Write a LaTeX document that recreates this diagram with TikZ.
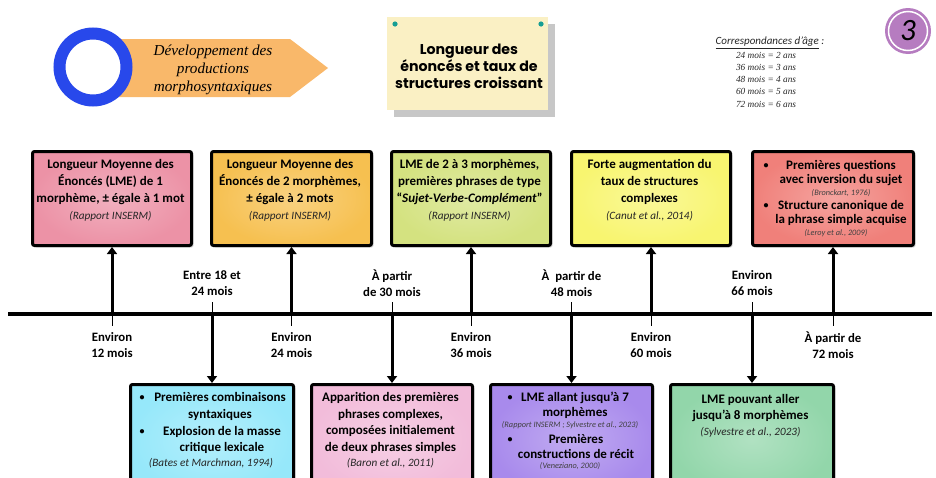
\documentclass[tikz,border=0pt]{standalone}
\usepackage{fontspec}
\setmainfont{Carlito}
\newfontfamily\serifit{Liberation Serif}
\newfontfamily\popf{Poppins}
\usetikzlibrary{arrows.meta,shadows}
\definecolor{cPink}{RGB}{236,146,166}
\definecolor{cOrange}{RGB}{246,192,80}
\definecolor{cLime}{RGB}{212,226,128}
\definecolor{cYellow}{RGB}{248,245,112}
\definecolor{cSalmon}{RGB}{240,128,122}
\definecolor{cCyan}{RGB}{150,232,250}
\definecolor{cRose}{RGB}{242,188,218}
\definecolor{cPurple}{RGB}{168,138,236}
\definecolor{cGreen}{RGB}{146,214,170}
\definecolor{cArrow}{RGB}{249,184,106}
\definecolor{cBlue}{RGB}{40,72,235}
\definecolor{cNote}{RGB}{250,240,196}
\definecolor{cTeal}{RGB}{22,158,148}
\definecolor{cMauve}{RGB}{182,124,192}
\begin{document}
\begin{tikzpicture}[x=1pt,y=-1pt,
 tbox/.style={draw=black, line width=3pt, rounded corners=2pt, anchor=north west, inner sep=0pt,
   inner color=#1!72!white, outer color=#1,
   drop shadow={shadow xshift=2pt, shadow yshift=-2pt, opacity=0.3}},
 bt/.style={font=\bfseries\fontsize{13}{16.8}\selectfont, align=center, inner sep=0pt},
 btt/.style={font=\bfseries\fontsize{13}{14.8}\selectfont, align=center, inner sep=0pt},
 ct/.style={font=\itshape\fontsize{11.2}{12}\selectfont, inner sep=0pt, text=black!85},
 cs/.style={font=\itshape\fontsize{8.3}{9}\selectfont, inner sep=0pt, text=black!75},
 bul/.style={font=\bfseries\fontsize{10}{12}\selectfont, inner sep=0pt},
 arr/.style={line width=3pt, -{Triangle[width=10pt,length=7pt]}},
 tickl/.style={line width=0.8pt},
 tl/.style={font=\bfseries\fontsize{12.8}{16}\selectfont, align=center, inner sep=0pt}
]
\useasboundingbox (0,0) rectangle (936,477);
\clip (0,0) rectangle (936,477);

% ---------- header ----------
\fill[cArrow] (115,39) -- (290,39) -- (328,68) -- (290,97) -- (115,97) -- cycle;
\draw[cBlue, line width=12pt, fill=white] (93,67) circle (33.5pt);
\node[font=\serifit\itshape\fontsize{15.2}{17.8}\selectfont, align=center, inner sep=0pt] (htxt) at (213,70)
  {Développement des\\productions\\morphosyntaxiques};

\fill[black!40, opacity=.55] (394,24) rectangle (555,117);
\node[fill=cNote, anchor=north west, minimum width=161pt, minimum height=93pt, inner sep=0pt] (note) at (387,17) {};
\fill[cTeal] (395,24) circle (2.6pt);
\fill[cTeal] (541,24) circle (2.6pt);
\node[font=\popf\bfseries\fontsize{14.2}{17}\selectfont, align=center, inner sep=0pt] (ntxt) at (469,66)
  {Longueur des\\énoncés et taux de\\structures croissant};

\node[font=\itshape\fontsize{11}{12}\selectfont, inner sep=0pt, text=black!85] (corr) at (770,43)
  {\underline{Correspondances d'âge} :};
\node[font=\serifit\itshape\fontsize{9.3}{12.2}\selectfont, align=center, inner sep=0pt, anchor=north, text=black!85] (ages) at (766,52)
  {24 mois = 2 ans\\36 mois = 3 ans\\48 mois = 4 ans\\60 mois = 5 ans\\72 mois = 6 ans};

\node[circle, fill=cMauve, minimum size=46pt, inner sep=0pt] (num) at (908,31) {};
\draw[white, line width=1.5pt] (num.center) circle (19.5pt);
\node[font=\itshape\fontsize{31}{32}\selectfont, inner sep=0pt] (numt) at (908,31) {3};

% ---------- top boxes ----------
\node[tbox=cPink,   minimum width=159pt, minimum height=94pt] (b1) at (31,150) {};
\node[tbox=cOrange, minimum width=160pt, minimum height=94pt] (b2) at (210,150) {};
\node[tbox=cLime,   minimum width=159pt, minimum height=94pt] (b3) at (390,150) {};
\node[tbox=cYellow, minimum width=159pt, minimum height=94pt] (b4) at (570,150) {};
\node[tbox=cSalmon, minimum width=161pt, minimum height=94pt] (b5) at (751,150) {};

\node[bt] (b1t) at (110.5,182) {Longueur Moyenne des\\Énoncés (LME) de 1\\morphème, ± égale à 1 mot};
\node[ct] (b1c) at (110.5,216) {(Rapport INSERM)};
\node[bt] (b2t) at (290,182) {Longueur Moyenne des\\Énoncés de 2 morphèmes,\\± égale à 2 mots};
\node[ct] (b2c) at (290,216) {(Rapport INSERM)};
\node[bt] (b3t) at (469.5,182) {LME de 2 à 3 morphèmes,\\premières phrases de type\\“\textit{Sujet-Verbe-Complément}”};
\node[ct] (b3c) at (469.5,216) {(Rapport INSERM)};
\node[bt] (b4t) at (649.5,182) {Forte augmentation du\\taux de structures\\complexes};
\node[ct] (b4c) at (649.5,216) {(Canut et al., 2014)};

\node[bul] (b5b1) at (766,166) {•};
\node[btt] (b5t1) at (841,173) {Premières questions\\avec inversion du sujet};
\node[cs] (b5c1) at (841,193) {(Bronckart, 1976)};
\node[bul] (b5b2) at (766,206) {•};
\node[btt] (b5t2) at (841,213) {Structure canonique de\\la phrase simple acquise};
\node[cs] (b5c2) at (836,233) {(Leroy et al., 2009)};

% ---------- bottom boxes ----------
\node[tbox=cCyan,   minimum width=163pt, minimum height=110pt] (bA) at (129,383) {};
\node[tbox=cRose,   minimum width=161pt, minimum height=110pt] (bB) at (310,383) {};
\node[tbox=cPurple, minimum width=162pt, minimum height=110pt] (bC) at (489,383) {};
\node[tbox=cGreen,  minimum width=163pt, minimum height=110pt] (bD) at (669,383) {};

\node[bul] (bAb1) at (142,398) {•};
\node[bt] (bAt1) at (220,406.5) {Premières combinaisons\\syntaxiques};
\node[bul] (bAb2) at (142,432) {•};
\node[bt] (bAt2) at (222,440) {Explosion de la masse\\critique lexicale};
\node[ct] (bAc) at (211,463) {(Bates et Marchman, 1994)};

\node[bt] (bBt) at (390.5,423) {Apparition des premières\\phrases complexes,\\composées initialement\\de deux phrases simples};
\node[ct] (bBc) at (390.5,463) {(Baron et al., 2011)};

\node[bul] (bCb1) at (510,398) {•};
\node[btt] (bCt1) at (575,405.5) {LME allant jusqu’à 7\\morphèmes};
\node[cs] (bCc1) at (570,425) {(Rapport INSERM ; Sylvestre et al., 2023)};
\node[bul] (bCb2) at (510,440) {•};
\node[btt] (bCt2) at (576,446.5) {Premières\\constructions de récit};
\node[cs] (bCc2) at (570,466) {(Veneziano, 2000)};

\node[bt] (bDt) at (750.5,408) {LME pouvant aller\\jusqu’à 8 morphèmes};
\node[ct] (bDc) at (750.5,432) {(Sylvestre et al., 2023)};

% ---------- timeline ----------
\coordinate (tL) at (8,314);
\coordinate (tR) at (932,314);
\draw[line width=4pt] (tL) -- (tR);

\coordinate (u1) at (b1.center |- tL);
\coordinate (u2) at (b2.center |- tL);
\coordinate (u3) at (b3.center |- tL);
\coordinate (u4) at (b4.center |- tL);
\coordinate (u5) at (b5.center |- tL);
\coordinate (d1) at (bA.center |- tL);
\coordinate (d2) at (bB.center |- tL);
\coordinate (d3) at (bC.center |- tL);
\coordinate (d4) at (bD.center |- tL);

\draw[arr] (u1) -- (b1.south);
\draw[arr] (u2) -- (b2.south);
\draw[arr] (u3) -- (b3.south);
\draw[arr] (u4) -- (b4.south);
\draw[arr] (u5) -- (b5.south);
\draw[arr] (d1) -- (bA.north);
\draw[arr] (d2) -- (bB.north);
\draw[arr] (d3) -- (bC.north);
\draw[arr] (d4) -- (bD.north);

\foreach \p in {u1,u2,u3,u4,u5} \draw[tickl] (\p) -- ++(0,12);
\foreach \p in {d1,d2,d3,d4} \draw[tickl] (\p) -- ++(0,-12);

\node[tl] (l1) at (u1 |- 0,345.5) {Environ\\12 mois};
\node[tl] (l2) at (u2 |- 0,345.5) {Environ\\24 mois};
\node[tl] (l3) at (u3 |- 0,345.5) {Environ\\36 mois};
\node[tl] (l4) at (u4 |- 0,345.5) {Environ\\60 mois};
\node[tl] (l5) at (u5 |- 0,345.5) {À partir de\\72 mois};
\node[tl] (m1) at (d1 |- 0,283.5) {Entre 18 et\\24 mois};
\node[tl] (m2) at (d2 |- 0,283.5) {À partir\\de 30 mois};
\node[tl] (m3) at (d3 |- 0,283.5) {À\ \ partir de\\48 mois};
\node[tl] (m4) at (d4 |- 0,283.5) {Environ\\66 mois};
\end{tikzpicture}
\end{document}
